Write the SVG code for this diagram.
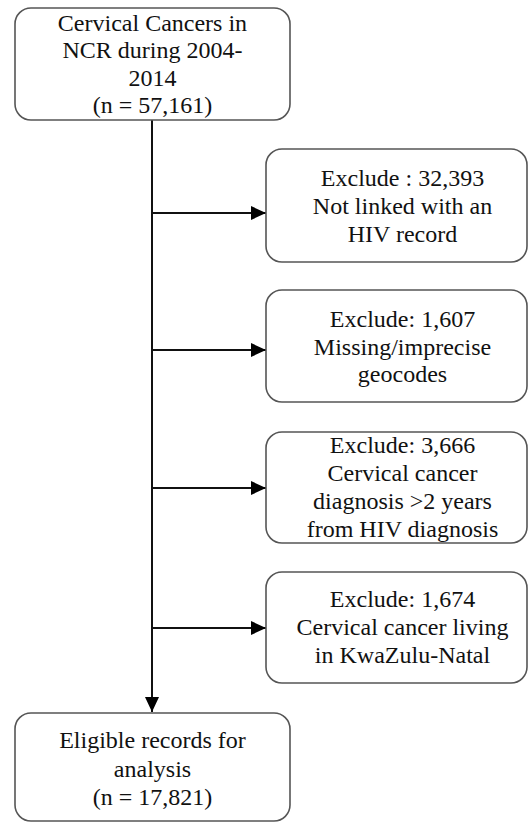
<svg xmlns="http://www.w3.org/2000/svg" width="528" height="823" viewBox="0 0 528 823">
<defs>
<style>
.box{fill:#fff;stroke:#555;stroke-width:1.6}
.t{font-family:"Liberation Serif","Times New Roman",serif;font-size:24px;fill:#111;text-anchor:middle}
.ln{stroke:#111;stroke-width:2;fill:none}
</style>
<marker id="ah" markerWidth="15" markerHeight="14" refX="15" refY="7" orient="auto" markerUnits="userSpaceOnUse">
<path d="M0,0 L15,7 L0,14 Z" fill="#000"/>
</marker>
</defs>
<rect width="528" height="823" fill="#fff"/>
<g id="connectors">
<path class="ln" d="M152,120 V712" marker-end="url(#ah)"/>
<path class="ln" d="M152,213 H266" marker-end="url(#ah)"/>
<path class="ln" d="M152,350 H266" marker-end="url(#ah)"/>
<path class="ln" d="M152,488 H266" marker-end="url(#ah)"/>
<path class="ln" d="M152,628 H266" marker-end="url(#ah)"/>
</g>
<g id="start">
<rect class="box" x="15" y="8" width="275" height="112" rx="16"/>
<text class="t" x="152.5" y="31">Cervical Cancers in</text>
<text class="t" x="152.5" y="58">NCR during 2004-</text>
<text class="t" x="152.5" y="86">2014</text>
<text class="t" x="152.5" y="113">(n = 57,161)</text>
</g>
<g id="ex1">
<rect class="box" x="266" y="149" width="261" height="113" rx="16"/>
<text class="t" x="402.5" y="186">Exclude : 32,393</text>
<text class="t" x="402.5" y="214">Not linked with an</text>
<text class="t" x="402.5" y="242">HIV record</text>
</g>
<g id="ex2">
<rect class="box" x="266" y="290" width="261" height="112" rx="16"/>
<text class="t" x="402.5" y="327">Exclude: 1,607</text>
<text class="t" x="402.5" y="355">Missing/imprecise</text>
<text class="t" x="402.5" y="382">geocodes</text>
</g>
<g id="ex3">
<rect class="box" x="266" y="432" width="261" height="111" rx="16"/>
<text class="t" x="402.5" y="453">Exclude: 3,666</text>
<text class="t" x="402.5" y="481">Cervical cancer</text>
<text class="t" x="402.5" y="509">diagnosis &gt;2 years</text>
<text class="t" x="402.5" y="537">from HIV diagnosis</text>
</g>
<g id="ex4">
<rect class="box" x="266" y="572" width="261" height="111" rx="16"/>
<text class="t" x="402.5" y="607">Exclude: 1,674</text>
<text class="t" x="402.5" y="635">Cervical cancer living</text>
<text class="t" x="402.5" y="663">in KwaZulu-Natal</text>
</g>
<g id="end">
<rect class="box" x="15" y="713" width="275" height="108" rx="16"/>
<text class="t" x="152.5" y="748">Eligible records for</text>
<text class="t" x="152.5" y="777">analysis</text>
<text class="t" x="152.5" y="805">(n = 17,821)</text>
</g>
</svg>
